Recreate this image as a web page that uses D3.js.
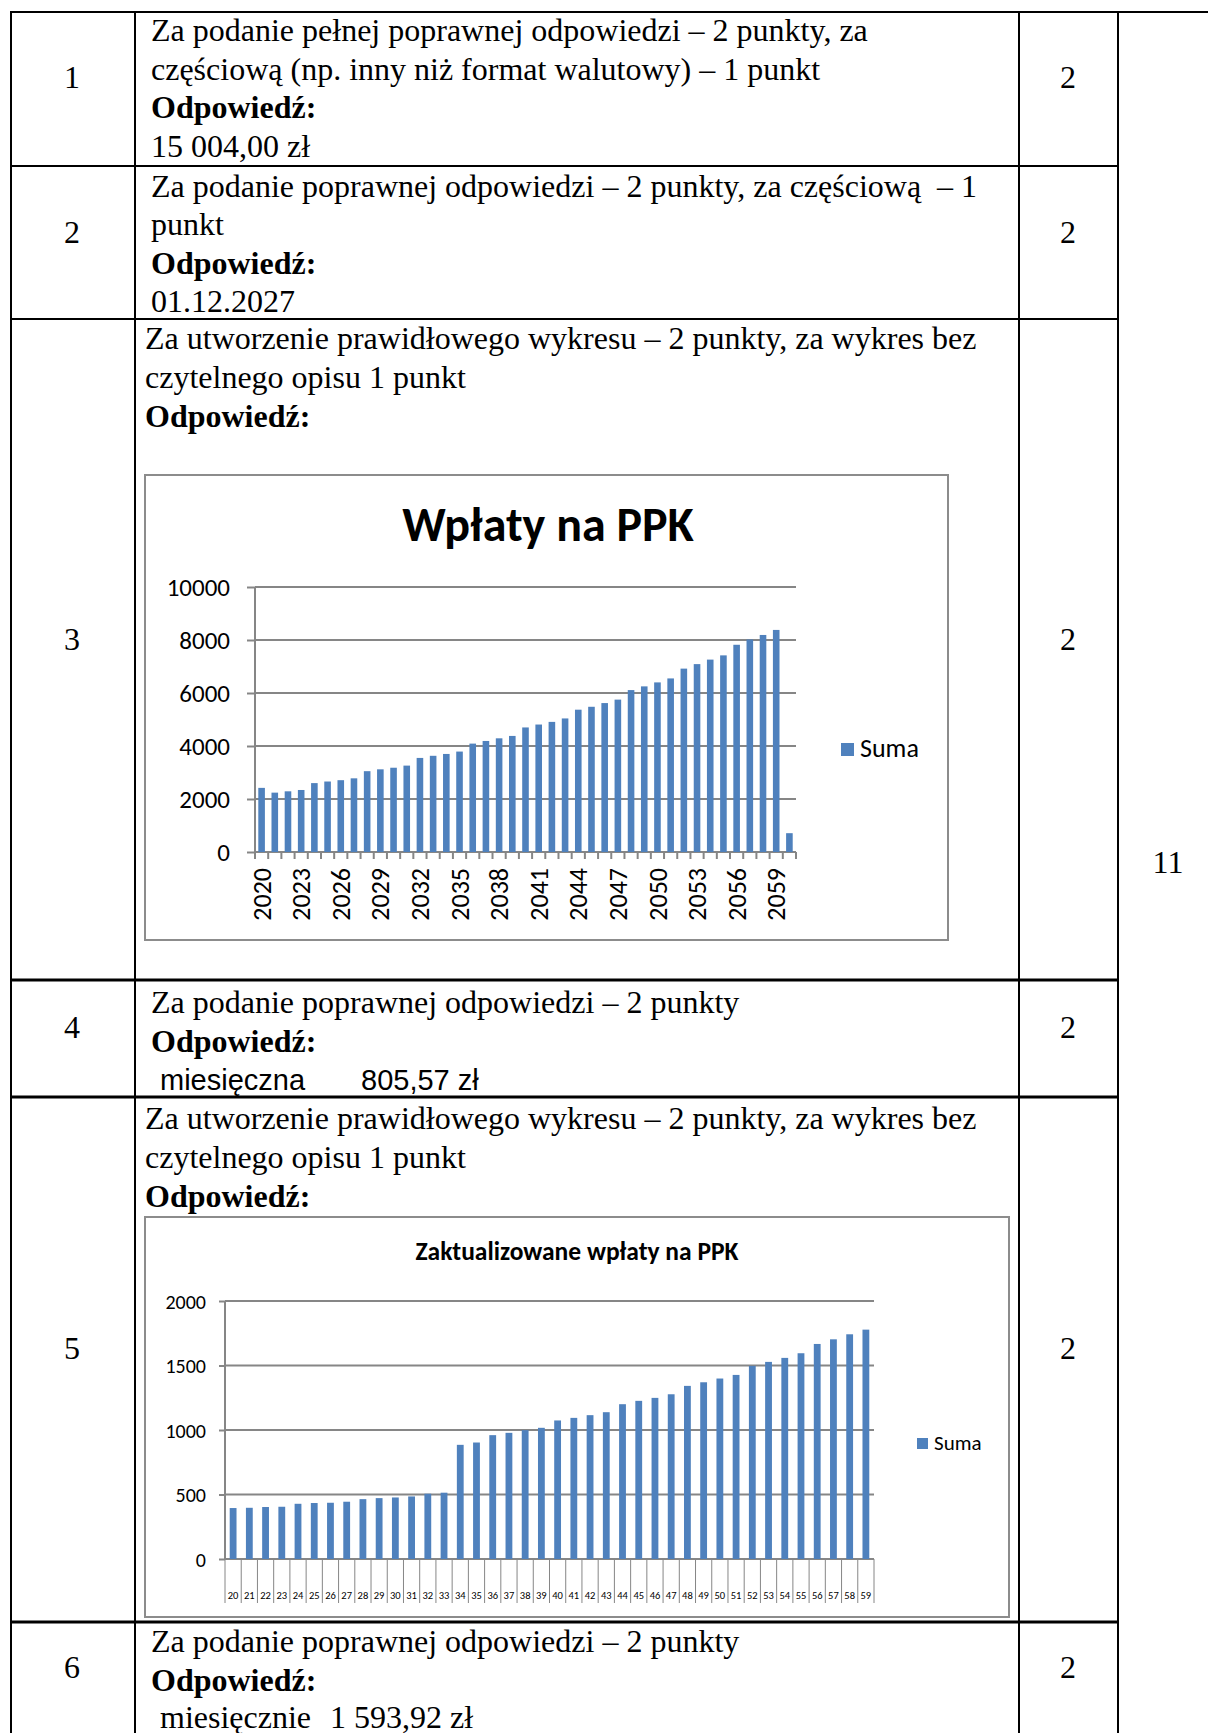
<!DOCTYPE html>
<html lang="pl">
<head>
  <meta charset="utf-8">
  <script src="https://cdn.jsdelivr.net/npm/d3@7"></script>
  <title>Wpłaty na PPK</title>
  <style>
    body { margin: 0; background: #fff; }
    svg { display: block; }
  </style>
</head>
<body>
<div id="page"></div>
<script>
  // ---- dane: wykres 1 (Wpłaty na PPK) ----
  var years1 = ["2020","2021","2022","2023","2024","2025","2026","2027","2028","2029",
    "2030","2031","2032","2033","2034","2035","2036","2037","2038","2039",
    "2040","2041","2042","2043","2044","2045","2046","2047","2048","2049",
    "2050","2051","2052","2053","2054","2055","2056","2057","2058","2059","2060"];
  var suma1 = [2420, 2240, 2290, 2340, 2600, 2660, 2710, 2780, 3050, 3120,
    3180, 3260, 3550, 3630, 3700, 3790, 4090, 4190, 4290, 4380,
    4700, 4810, 4910, 5040, 5370, 5480, 5620, 5750, 6110, 6250,
    6400, 6550, 6920, 7090, 7260, 7420, 7820, 8020, 8190, 8380, 710];
  var xTicks1 = ["2020","2023","2026","2029","2032","2035","2038","2041","2044","2047","2050","2053","2056","2059"];
  var yTicks1 = [0, 2000, 4000, 6000, 8000, 10000];

  // ---- dane: wykres 2 (Zaktualizowane wpłaty na PPK) ----
  var years2 = ["20","21","22","23","24","25","26","27","28","29",
    "30","31","32","33","34","35","36","37","38","39",
    "40","41","42","43","44","45","46","47","48","49",
    "50","51","52","53","54","55","56","57","58","59"];
  var suma2 = [395, 397, 403, 405, 428, 434, 436, 444, 464, 472,
    477, 485, 506, 514, 885, 903, 960, 978, 999, 1017,
    1074, 1094, 1115, 1138, 1200, 1226, 1249, 1277, 1342, 1370,
    1399, 1427, 1497, 1528, 1559, 1595, 1667, 1703, 1742, 1778];
  var yTicks2 = [0, 500, 1000, 1500, 2000];

  // ---- tabela ----
  var numbers = ["1", "2", "3", "4", "5", "6"];
  var points = ["2", "2", "2", "2", "2", "2"];
  var total = "11";

  var width = 1208, height = 1733;
  var serif = "'Liberation Serif', 'Times New Roman', serif";
  var sans = "'Liberation Sans', Arial, sans-serif";
  var calibri = "Carlito, Calibri, Lato, sans-serif";
  var blue = "#4F81BD", grid = "#868686";

  var svg = d3.select("#page").append("svg")
    .attr("width", width).attr("height", height)
    .style("background", "#fff");

  // linie tabeli
  var rowLines = [12, 166, 319, 980, 1097, 1622];
  var colX = [11, 135, 1019, 1118];
  var table = svg.append("g").attr("stroke", "#000").attr("stroke-width", 2);
  table.append("line").attr("x1", 11).attr("x2", width).attr("y1", 12).attr("y2", 12);
  rowLines.slice(1).forEach(function (y, i) {
    table.append("line").attr("x1", 11).attr("x2", 1118).attr("y1", y).attr("y2", y)
      .attr("stroke-width", i >= 2 ? 3 : 2);
  });
  colX.forEach(function (x) {
    table.append("line").attr("x1", x).attr("x2", x).attr("y1", 11).attr("y2", height);
  });

  // numery zadań i punkty
  var numY = [88, 243, 650, 1038, 1359, 1678];
  numbers.forEach(function (n, i) {
    svg.append("text").attr("x", 72).attr("y", numY[i]).attr("text-anchor", "middle")
      .style("font", "32px " + serif).text(n);
    svg.append("text").attr("x", 1068).attr("y", numY[i]).attr("text-anchor", "middle")
      .style("font", "32px " + serif).text(points[i]);
  });
  svg.append("text").attr("x", 1168).attr("y", 873).attr("text-anchor", "middle")
    .style("font", "32px " + serif).text(total);

  // teksty w komórkach: [x, y, tekst, pogrubienie, krój]
  var lines = [
    [151, 41, "Za podanie pełnej poprawnej odpowiedzi – 2 punkty, za"],
    [151, 80, "częściową (np. inny niż format walutowy) – 1 punkt"],
    [151, 118, "Odpowiedź:", true],
    [151, 157, "15 004,00 zł"],
    [151, 197, "Za podanie poprawnej odpowiedzi – 2 punkty, za częściową  – 1"],
    [151, 235, "punkt"],
    [151, 274, "Odpowiedź:", true],
    [151, 312, "01.12.2027"],
    [145, 349, "Za utworzenie prawidłowego wykresu – 2 punkty, za wykres bez"],
    [145, 388, "czytelnego opisu 1 punkt"],
    [145, 427, "Odpowiedź:", true],
    [151, 1013, "Za podanie poprawnej odpowiedzi – 2 punkty"],
    [151, 1052, "Odpowiedź:", true],
    [160, 1090, "miesięczna", false, sans],
    [361, 1090, "805,57 zł", false, sans],
    [145, 1129, "Za utworzenie prawidłowego wykresu – 2 punkty, za wykres bez"],
    [145, 1168, "czytelnego opisu 1 punkt"],
    [145, 1207, "Odpowiedź:", true],
    [151, 1652, "Za podanie poprawnej odpowiedzi – 2 punkty"],
    [151, 1691, "Odpowiedź:", true],
    [160, 1728, "miesięcznie"],
    [330, 1728, "1 593,92 zł"]
  ];
  lines.forEach(function (l) {
    svg.append("text").attr("x", l[0]).attr("y", l[1])
      .style("font-family", l[4] || serif)
      .style("font-size", l[4] ? "29px" : "32px")
      .style("font-weight", l[3] ? "bold" : "normal")
      .style("white-space", "pre")
      .text(l[2]);
  });

  // wykres słupkowy w stylu Excela
  function barChart(c) {
    var g = svg.append("g");
    g.append("rect").attr("x", c.box[0]).attr("y", c.box[1])
      .attr("width", c.box[2]).attr("height", c.box[3])
      .attr("fill", "#fff").attr("stroke", "#8c8c8c").attr("stroke-width", 2);

    var x = d3.scaleBand().domain(c.cats).range([c.x0, c.x1])
      .paddingInner(c.pad).paddingOuter(c.pad / 2);
    var y = d3.scaleLinear().domain([0, d3.max(c.yTicks)]).range([c.y0, c.yTop]);

    // siatka + etykiety osi Y
    var yAxis = g.append("g").attr("transform", "translate(" + c.x0 + ",0)")
      .call(d3.axisLeft(y).tickValues(c.yTicks).tickFormat(d3.format("d"))
        .tickSize(c.x0 - c.gridStart));
    yAxis.select(".domain").remove();
    yAxis.selectAll(".tick line").attr("stroke", grid).attr("stroke-width", 2);
    yAxis.selectAll(".tick text").attr("x", c.labelX - c.x0).attr("dy", "0.35em")
      .style("font-family", calibri).style("font-size", c.yFont + "px").attr("fill", "#000");
    g.append("g").selectAll("line").data(c.yTicks).join("line")
      .attr("x1", c.x0).attr("x2", c.x1)
      .attr("y1", function (d) { return y(d); }).attr("y2", function (d) { return y(d); })
      .attr("stroke", grid).attr("stroke-width", 2);
    g.append("line").attr("x1", c.x0).attr("x2", c.x0).attr("y1", c.yTop).attr("y2", c.y0)
      .attr("stroke", grid).attr("stroke-width", 2);

    // podziałki osi X na granicach kategorii
    var step = x.step();
    var bounds = d3.range(c.cats.length + 1).map(function (i) { return c.x0 + i * step; });
    g.append("g").selectAll("line").data(bounds).join("line")
      .attr("x1", function (d) { return d; }).attr("x2", function (d) { return d; })
      .attr("y1", c.y0).attr("y2", c.y0 + c.tickLen)
      .attr("stroke", grid).attr("stroke-width", c.tickWidth);

    // słupki
    g.append("g").selectAll("rect").data(c.values).join("rect")
      .attr("x", function (d, i) { return x(c.cats[i]); })
      .attr("width", x.bandwidth())
      .attr("y", function (d) { return y(d); })
      .attr("height", function (d) { return c.y0 - y(d); })
      .attr("fill", blue);

    // etykiety osi X
    var lab = g.append("g").selectAll("text").data(c.xLabels).join("text")
      .style("font-family", calibri).style("font-size", c.xFont + "px").attr("fill", "#000");
    if (c.rotate) {
      lab.attr("text-anchor", "end").attr("dy", "0.35em")
        .attr("transform", function (d) {
          return "translate(" + (x(d) + x.bandwidth() / 2) + "," + c.xLabelY + ") rotate(-90)";
        });
    } else {
      lab.attr("text-anchor", "middle")
        .attr("x", function (d) { return x(d) + x.bandwidth() / 2; })
        .attr("y", c.xLabelY);
    }
    lab.text(function (d) { return d; });

    // tytuł i legenda
    g.append("text").attr("x", c.title[0]).attr("y", c.title[1]).attr("text-anchor", "middle")
      .style("font-family", calibri).style("font-weight", "bold")
      .style("font-size", c.title[2] + "px").text(c.title[3]);
    g.append("rect").attr("x", c.legend[0]).attr("y", c.legend[1])
      .attr("width", c.legend[2]).attr("height", c.legend[2]).attr("fill", blue);
    g.append("text").attr("x", c.legend[0] + c.legend[2] + 6).attr("y", c.legend[1] + c.legend[2] + 1)
      .style("font-family", calibri).style("font-size", c.legend[3] + "px").text("Suma");
  }

  barChart({
    box: [145, 475, 803, 465],
    cats: years1, values: suma1, yTicks: yTicks1, xLabels: xTicks1,
    x0: 255, x1: 796, y0: 852, yTop: 587, gridStart: 247, labelX: 230,
    pad: 0.5, yFont: 25, xFont: 26, rotate: true, xLabelY: 868,
    tickLen: 7, tickWidth: 2,
    title: [548, 541, 48, "Wpłaty na PPK"],
    legend: [841, 743, 13, 26]
  });

  barChart({
    box: [145, 1217, 864, 400],
    cats: years2, values: suma2, yTicks: yTicks2, xLabels: years2,
    x0: 225, x1: 874, y0: 1559, yTop: 1301, gridStart: 219, labelX: 206,
    pad: 0.58, yFont: 20, xFont: 10.5, rotate: false, xLabelY: 1599,
    tickLen: 44, tickWidth: 1,
    title: [577, 1260, 25.5, "Zaktualizowane wpłaty na PPK"],
    legend: [917, 1438, 11, 21]
  });
</script>
</body>
</html>
